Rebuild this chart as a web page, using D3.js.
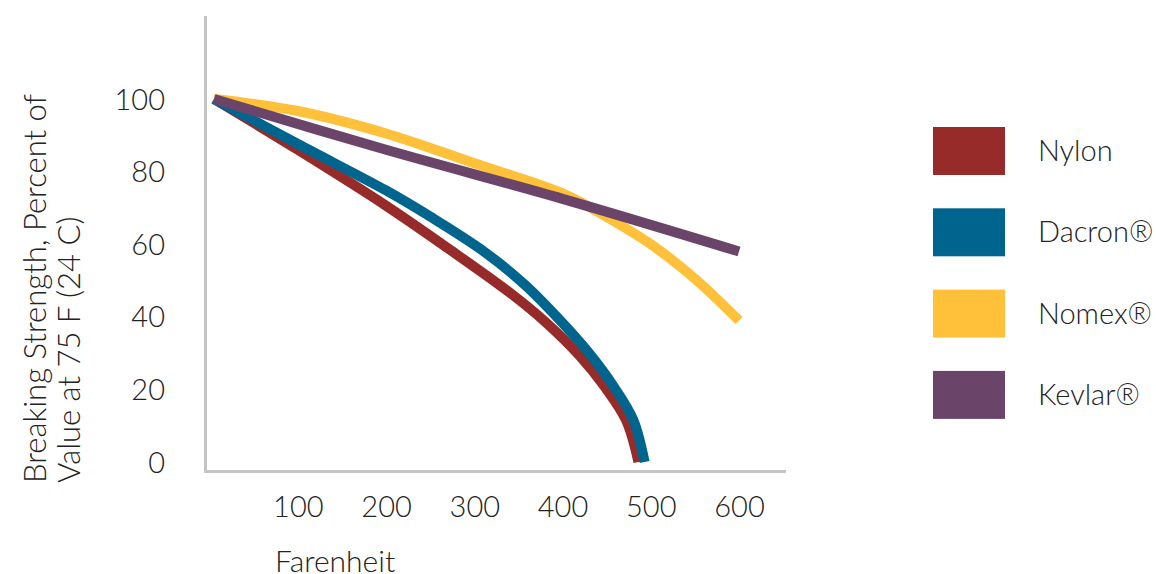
<!DOCTYPE html>
<html>
<head>
<meta charset="utf-8">
<script src="https://cdn.jsdelivr.net/npm/d3@7"></script>
<style>
  html, body { margin: 0; padding: 0; background: #fff; }
  svg { display: block; }
  text { font-family: Lato, "Open Sans", sans-serif; font-weight: 300; fill: #222; }
</style>
</head>
<body>
<svg id="chart" width="1156" height="574"></svg>
<script>
// ---- data ----
const seriesNames = ["Nylon", "Dacron®", "Nomex®", "Kevlar®"];
const seriesColors = ["#962B2A", "#00658E", "#FFC03A", "#6B4469"];
const nylon  = [[5,100],[100,86],[200,70.6],[270,58.9],[340,46.7],[380,38.7],[420,29.1],[447,21],[472,11.5],[486,0]];
const dacron = [[5,100],[100,87.6],[200,74.8],[250,67.6],[312,57.8],[357,48.9],[395,39.6],[429,30.3],[458,20.8],[480,11.7],[493,0]];
const nomex  = [[5,100],[100,96.7],[200,90.5],[300,82.3],[400,74],[450,67.5],[500,60],[550,50.5],[600,39]];
const kevlar = [[5,100],[200,86],[400,72.5],[600,58]];
const xTicks = [100, 200, 300, 400, 500, 600];
const yTicks = [0, 20, 40, 60, 80, 100];
const xTitle = "Farenheit";
const yTitleLines = ["Breaking Strength, Percent of", "Value at 75 F (24 C)"];

const allSeries = [nylon, dacron, nomex, kevlar];

const svg = d3.select("#chart");

const x = d3.scaleLinear().domain([0, 600]).range([209.6, 739]);
const y = d3.scaleLinear().domain([0, 100]).range([462, 99]);

// axis frame lines
svg.append("line").attr("x1", 205.5).attr("x2", 205.5).attr("y1", 16).attr("y2", 473)
  .attr("stroke", "#c4c4c4").attr("stroke-width", 3);
svg.append("line").attr("x1", 204).attr("x2", 786).attr("y1", 471.5).attr("y2", 471.5)
  .attr("stroke", "#c4c4c4").attr("stroke-width", 3);

// y axis labels
const yAxis = svg.append("g").attr("transform", "translate(165,0)")
  .call(d3.axisLeft(y).tickValues(yTicks).tickSize(0).tickPadding(0));
yAxis.select(".domain").remove();
yAxis.selectAll("text").attr("font-size", 29).style("font-family", "Lato, sans-serif")
  .attr("dy", "0.35em").attr("fill", "#222");

// x axis labels
const xAxis = svg.append("g").attr("transform", "translate(0,507)")
  .call(d3.axisBottom(x).tickValues(xTicks).tickSize(0).tickPadding(0));
xAxis.select(".domain").remove();
xAxis.selectAll("text").attr("font-size", 29).attr("dy", "0.35em").attr("fill", "#222");

// clip so curves stop at the x axis line
svg.append("clipPath").attr("id", "plotclip").append("rect")
  .attr("x", 207).attr("y", 0).attr("width", 900).attr("height", 470);

const line = d3.line().x(d => x(d[0])).y(d => y(d[1])).curve(d3.curveCatmullRom.alpha(0.5));

svg.append("g").attr("clip-path", "url(#plotclip)")
  .selectAll("path").data(allSeries).join("path")
  .attr("d", d => line(d))
  .attr("fill", "none")
  .attr("stroke", (d, i) => seriesColors[i])
  .attr("stroke-width", 10)
  .attr("stroke-linecap", "butt")
  .attr("stroke-linejoin", "round");

// axis titles
svg.append("text").attr("x", 275).attr("y", 561).attr("dy", "0.35em")
  .attr("font-size", 30).text(xTitle);

const yt = svg.append("g");
yTitleLines.forEach((t, i) => {
  yt.append("text")
    .attr("transform", `translate(${35 + i * 34},483) rotate(-90)`)
    .attr("dy", "0.35em")
    .attr("font-size", 31)
    .text(t);
});

// legend
const legend = svg.append("g").selectAll("g").data(seriesNames).join("g")
  .attr("transform", (d, i) => `translate(933,${127 + i * 81.3})`);
legend.append("rect").attr("width", 72).attr("height", 48)
  .attr("fill", (d, i) => seriesColors[i]);
legend.append("text").attr("x", 105).attr("y", 24).attr("dy", "0.35em")
  .attr("font-size", 29).text(d => d);
</script>
</body>
</html>
